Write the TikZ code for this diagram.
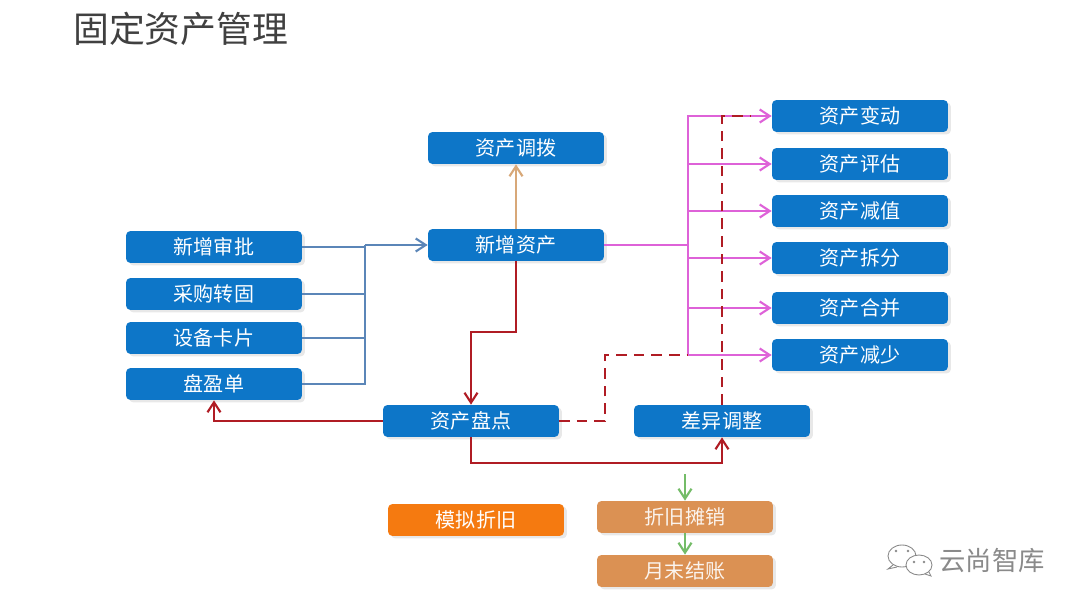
\documentclass[tikz,border=0pt]{standalone}
\usepackage{fontspec}
\setmainfont{Noto Sans CJK SC}
\usetikzlibrary{arrows.meta, shadows}
\definecolor{Ink}{HTML}{404040}
\definecolor{Box}{HTML}{0D76C8}
\definecolor{Tan}{HTML}{DB9153}
\definecolor{Orange}{HTML}{F57A10}
\definecolor{BlueLine}{HTML}{5B86B8}
\definecolor{Pink}{HTML}{DE62D8}
\definecolor{Red}{HTML}{B01C24}
\definecolor{Brown}{HTML}{D8A878}
\definecolor{Green}{HTML}{74BC68}
\definecolor{Mark}{HTML}{8A8A8A}
\tikzset{
  card/.style={rounded corners=0.09cm, minimum width=3.52cm, minimum height=0.64cm, inner sep=0pt,
    fill=Box, text=white, font=\fontsize{11.4}{12}\selectfont,
    drop shadow={shadow xshift=0.06cm, shadow yshift=-0.05cm, opacity=0.18}},
  tancard/.style={card, fill=Tan, text=white!90!Tan},
  tip/.style={-{Straight Barb[length=2mm, width=2.6mm, line width=1.2pt]}},
  link/.style={line width=1.4pt}
}
\begin{document}
\begin{tikzpicture}[x=0.02cm, y=-0.02cm]
  \useasboundingbox[fill=white] (0,0) rectangle (1080,608);
  \node[Ink, anchor=west, font=\fontsize{20.4}{22}\selectfont] (title) at (67,29) {固定资产管理};

  \node[card] (biandong) at (860,116) {资产变动};
  \node[card] (pinggu) at (860,164) {资产评估};
  \node[card] (jianzhi) at (860,211) {资产减值};
  \node[card] (chaifen) at (860,258) {资产拆分};
  \node[card] (hebing) at (860,308) {资产合并};
  \node[card] (jianshao) at (860,355) {资产减少};
  \node[card] (diaobo) at (516,148) {资产调拨};
  \node[card] (xinzeng) at (516,245) {新增资产};
  \node[card] (shenpi) at (214,247) {新增审批};
  \node[card] (caigou) at (214,294) {采购转固};
  \node[card] (shebei) at (214,338) {设备卡片};
  \node[card] (panying) at (214,384) {盘盈单};
  \node[card] (pandian) at (471,421) {资产盘点};
  \node[card] (chayi) at (722,421) {差异调整};
  \node[card, fill=Orange] (moni) at (476,520) {模拟折旧};
  \node[tancard] (zhejiu) at (685,517) {折旧摊销};
  \node[tancard] (jiezhang) at (685,571) {月末结账};

  \coordinate (blueBus) at (365,245);
  \coordinate (pinkBus) at (688,245);
  \coordinate (redBend) at (516,332);
  \coordinate (redLow) at (722,463);
  \coordinate (dashBend) at (605,355);
  \coordinate (dashTop) at (750,116);
  \coordinate (greenTop) at (685,474);

  \foreach \n in {shenpi,caigou,shebei,panying} {
    \draw[BlueLine, link] (\n.east) -| (blueBus);
  }
  \draw[BlueLine, link, tip] (blueBus) -- (xinzeng.west);

  \draw[Pink, link] (xinzeng.east) -- (pinkBus);
  \foreach \n in {biandong,pinggu,jianzhi,chaifen,hebing,jianshao} {
    \draw[Pink, link, tip] (pinkBus) |- (\n.west);
  }

  \draw[Brown, link, tip] (xinzeng.north) -- (diaobo.south);

  \draw[Red, link, tip] (xinzeng.south) -- (redBend) -| (pandian.north);
  \draw[Red, link, tip] (pandian.west) -| (panying.south);
  \draw[Red, link, tip] (pandian.south) |- (redLow) -- (chayi.south);
  \draw[Red, link, dash pattern=on 6pt off 4pt] (pandian.east) -| (dashBend) -- (pinkBus |- dashBend);
  \draw[Red, link, dash pattern=on 6pt off 4pt] (chayi.north) |- (dashTop);

  \draw[Green, link, tip] (greenTop) -- (zhejiu.north);
  \draw[Green, link, tip] (zhejiu.south) -- (jiezhang.north);

  \draw[Mark, line width=0.5pt, fill=white] (902,556) ellipse (14 and 11);
  \draw[Mark, line width=0.5pt] (893,565) -- (888,569) -- (897,567);
  \draw[Mark, line width=0.5pt, fill=white] (919,565) ellipse (13 and 10);
  \draw[Mark, line width=0.5pt] (925,574) -- (931,576) -- (929,572);
  \foreach \p in {(896,551),(908,551),(914,562),(924,562)} {
    \fill[Mark] \p circle (1.3);
  }
  \node[Mark, font=\fontsize{15}{16}\selectfont] (mark) at (992,561) {云尚智库};
\end{tikzpicture}
\end{document}
